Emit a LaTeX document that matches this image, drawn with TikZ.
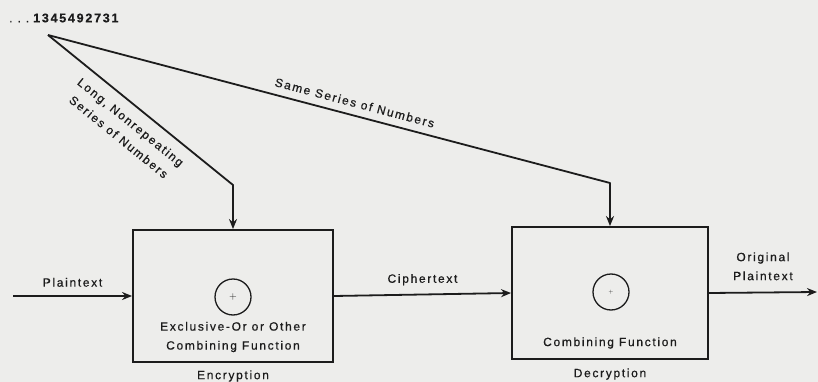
\documentclass[tikz,border=0pt]{standalone}
\usepackage{fontspec}
\setmainfont[LetterSpace=14, FakeBold=0.6]{Liberation Sans}
\usetikzlibrary{arrows.meta,positioning}
\definecolor{ink}{RGB}{28,28,28}
\definecolor{paper}{RGB}{237,237,235}

\tikzset{
  stage/.style={draw=ink, line width=1.9pt, minimum width=200pt, minimum height=132pt},
  combiner/.style={draw=ink, circle, line width=1.3pt, minimum size=36pt, inner sep=0pt},
  flow/.style={draw=ink, line width=1.8pt, line join=round, -{Stealth[length=10pt,width=8pt]}},
}

\begin{document}
\begin{tikzpicture}[x=1pt, y=-1pt, every node/.style={text=ink, font=\fontsize{12}{19}\selectfont}]
  % page
  \fill[paper] (0,0) rectangle (818,382);
  \useasboundingbox (0,0) rectangle (818,382);

  % key stream
  \node[anchor=west, inner sep=0pt] (key) at (9,18)
    {.\hspace{5pt}.\hspace{5pt}.\hspace{4pt}{\fontsize{12.5}{19}\selectfont\bfseries 1345492731}};
  \coordinate (src) at (48,35);
  \coordinate (bendA) at (233,185);
  \coordinate (bendB) at (610,183);

  % the two stages
  \node[stage] (enc) at (233,296) {};
  \node[stage, minimum width=196pt] (dec) at (610,293) {};
  \node[combiner] (xorA) at (233,297) {\fontsize{10}{10}\selectfont$+$};
  \node[combiner] (xorB) at (611,292) {\fontsize{5}{5}\selectfont$+$};
  \node[align=center] (encfn) at (233,337) {Exclusive-Or or Other\\Combining Function};
  \node (decfn) at (610,343) {Combining Function};
  \node[below=4pt of enc] (encname) {Encryption};
  \node[below=5pt of dec] (decname) {Decryption};

  % key lines
  \draw[flow] (src) -- node[midway, sloped, below=7pt, align=center]
    {Long, Nonrepeating\\Series of Numbers} (bendA) -- (enc.north);
  \draw[flow] (src) -- node[pos=0.54, sloped, above=4pt]
    {Same Series of Numbers} (bendB) -- (dec.north);

  % text path
  \coordinate (in) at (13,296);
  \coordinate (out) at (817,292);
  \draw[flow] (in) -- node[midway, above=5pt] {Plaintext} (enc.west);
  \draw[flow] (enc.east) -- node[midway, above=5pt] {Ciphertext} (dec.west);
  \draw[flow] (dec.east) -- node[midway, above=8pt, align=center] {Original\\Plaintext} (out);
\end{tikzpicture}
\end{document}
